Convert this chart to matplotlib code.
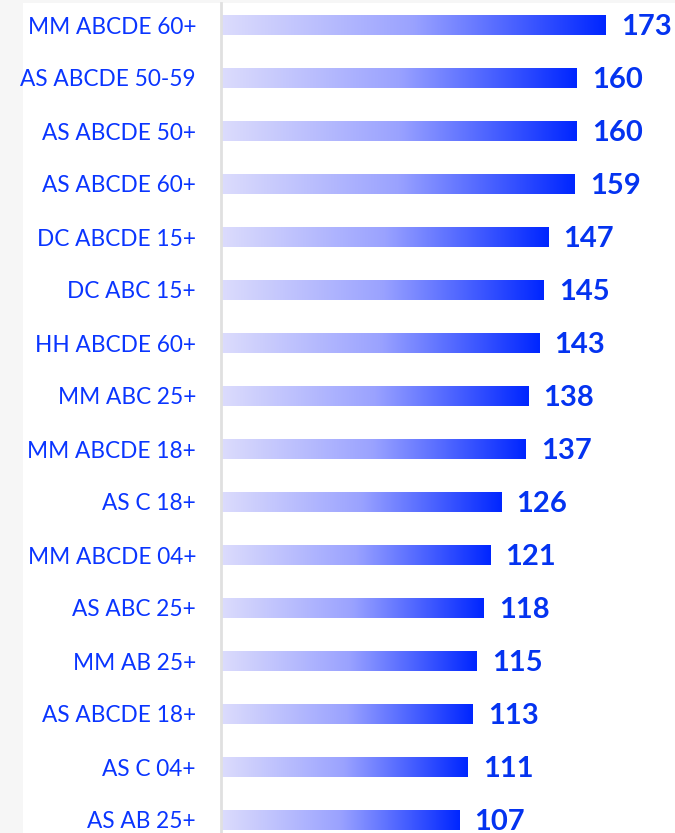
import numpy as np
import matplotlib
matplotlib.use("Agg")
import matplotlib.pyplot as plt
from matplotlib.colors import LinearSegmentedColormap
from matplotlib.patches import Rectangle

categories = ["MM ABCDE 60+", "AS ABCDE 50-59", "AS ABCDE 50+", "AS ABCDE 60+",
              "DC ABCDE 15+", "DC ABC 15+", "HH ABCDE 60+", "MM ABC 25+",
              "MM ABCDE 18+", "AS C 18+", "MM ABCDE 04+", "AS ABC 25+",
              "MM AB 25+", "AS ABCDE 18+", "AS C 04+", "AS AB 25+"]
values = [173, 160, 160, 159, 147, 145, 143, 138, 137, 126, 121, 118, 115, 113, 111, 107]

W, H = 675, 833
fig = plt.figure(figsize=(W / 100, H / 100), dpi=100, facecolor="#f6f6f6")
fig.patches.append(Rectangle((23 / W, 0), 1 - 23 / W, 830 / H, transform=fig.transFigure,
                             facecolor="white", edgecolor="none", zorder=-10))

ax = fig.add_axes([221 / W, 0, 1 - 221 / W, 830 / H])
ax.set_facecolor("white")
ax.set_zorder(5)

cmap = LinearSegmentedColormap.from_list("g", ["#dcdcfc", "#9aa2ff", "#0026ff"])
grad = np.linspace(0, 1, 256).reshape(1, -1)
bar_h = 0.37
label_color = "#0a35ff"
for i, v in enumerate(values):
    ax.imshow(grad, cmap=cmap, aspect="auto", extent=[0, v, i + bar_h / 2, i - bar_h / 2],
              interpolation="bicubic", zorder=2)
    ax.annotate(str(v), xy=(v, i), xytext=(11, -1.5), textcoords="offset points",
                ha="left", va="center", fontsize=21, fontweight="bold",
                color="#0433f0", family="Lato")

xmax = (675 - 221) / 2.225
ax.set_xlim(0, xmax)
ax.set_ylim((833 - 25) / 53, (3 - 25) / 53)
ax.set_yticks(range(len(categories)))
ax.set_yticklabels(categories, fontsize=16.3, color=label_color, family="Lato")
for lbl in ax.get_yticklabels():
    lbl.set_va("center_baseline")
ax.tick_params(axis="y", length=0, pad=18)
ax.set_xticks([])
for s in ["top", "right", "bottom"]:
    ax.spines[s].set_visible(False)
ax.spines["left"].set_color("#e0e0e0")
ax.spines["left"].set_linewidth(2)

fig.savefig("out.png", dpi=100, facecolor=fig.get_facecolor())
